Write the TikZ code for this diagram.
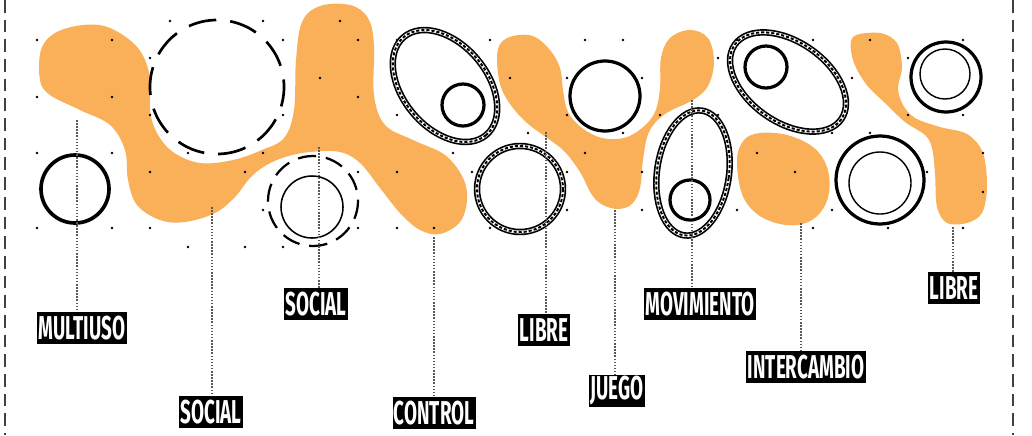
\documentclass[tikz,border=0pt]{standalone}
\usepackage{fontspec}
\newfontfamily\tagfont[FakeStretch=0.57]{Fira Sans}
\definecolor{blob}{RGB}{249,176,88}

\begin{document}
\begin{tikzpicture}[x=0.025cm, y=-0.025cm,
  zone/.style={fill=blob, draw=none},
  thick ring/.style={draw, line width=2.3pt},
  thin ring/.style={draw, line width=1pt},
  wall/.style={draw, line width=1.2pt, double=white, double distance=2.2pt,
    postaction={draw, line width=1.4pt, dash pattern=on 2.2pt off 1.4pt}},
  leader/.style={draw=black!65, line width=1.6pt, dash pattern=on 1.1pt off 1.1pt},
  tag/.style={fill=black, text=white, inner xsep=1pt, inner ysep=0pt,
    minimum height=0.8cm, font=\tagfont\bfseries\fontsize{23.5}{23.5}\selectfont}
]
\useasboundingbox (0,0) rectangle (1032,435);

% sheet border
\draw[black!75, line width=1.4pt, dash pattern=on 9pt off 5pt] (5,0) -- (5,435);
\draw[black!75, line width=1.4pt, dash pattern=on 9pt off 5pt] (1013,0) -- (1013,435);

% orange zones
\fill[zone] plot[smooth cycle, tension=0.6] coordinates {
  (40,80) (41,50) (55,33) (83,25) (110,28) (138,48) (150,77) (150,110) (157,133)
  (173,152) (200,163) (233,160) (262,150) (284,138) (294,110) (296,60) (302,22)
  (320,6) (350,5) (368,18) (374,45) (374,95) (385,125) (413,140) (445,155)
  (463,178) (467,200) (460,222) (440,234) (420,230) (400,213) (380,188)
  (360,163) (340,152) (310,152) (285,157) (265,166) (250,178) (235,197)
  (215,213) (185,222) (160,220) (137,205) (128,180) (125,150) (110,125)
  (80,110) (50,95)};
\fill[zone] plot[smooth cycle, tension=0.6] coordinates {
  (497,57) (501,43) (513,36) (533,36) (550,50) (560,68) (563,90) (568,112)
  (582,128) (602,138) (624,138) (642,128) (655,112) (660,88) (661,58) (670,38)
  (690,30) (708,38) (714,62) (708,86) (693,100) (665,114) (649,132) (643,160)
  (640,188) (632,204) (618,209) (603,205) (592,195) (580,172) (565,152)
  (550,140) (527,123) (510,104) (500,84)};
\fill[zone] plot[smooth cycle, tension=0.6] coordinates {
  (737,160) (744,140) (760,133) (787,135) (813,147) (827,167) (829,193)
  (820,213) (803,224) (780,224) (757,214) (742,194)};
\fill[zone] plot[smooth cycle, tension=0.55] coordinates {
  (853,37) (880,33) (897,43) (902,67) (898,88) (903,105) (915,118) (940,127)
  (967,134) (983,153) (987,187) (982,213) (967,223) (947,223) (937,207)
  (935,173) (932,148) (925,135) (905,122) (885,103) (866,84) (853,60)};

% rings and ellipses
\draw[thick ring, line width=2.6pt] (75,189) circle[radius=34];
\draw[line width=1.9pt, dash pattern=on 20pt off 10pt, dash phase=6pt] (217,87) circle[radius=67];
\draw[line width=1.6pt, dash pattern=on 13pt off 7pt] (313,201) circle[radius=45];
\draw[thin ring, line width=1.1pt] (312,207) circle[radius=31];

\coordinate (ctrlC) at (445,86);
\draw[wall, rotate around={-50:(ctrlC)}] (ctrlC) ellipse[x radius=64, y radius=42];
\draw[thick ring] (463,105) circle[radius=21];
\draw[wall] (520,189) circle[radius=43];
\draw[thick ring] (605,96) circle[radius=35];

\coordinate (movC) at (693,173);
\draw[wall, rotate around={-8:(movC)}] (movC) ellipse[x radius=36, y radius=63];
\draw[thick ring] (690,200) circle[radius=20];

\coordinate (intC) at (788,82);
\draw[wall, rotate around={-35:(intC)}] (intC) ellipse[x radius=65, y radius=40];
\draw[thick ring] (766,67) circle[radius=21];

\draw[thick ring] (880,180) circle[radius=44];
\draw[thin ring] (880,183) circle[radius=31];
\draw[thick ring] (946,77) circle[radius=35];
\draw[thin ring] (945,74) circle[radius=25];

% grid dots
\foreach \p in {(37,40),(112,40),(170,21),(263,21),(283,40),(340,21),(37,97),
  (112,97),(150,58),(150,115),(283,115),(320,78),(37,153),(112,153),(188,153),
  (263,153),(150,172),(245,172),(263,210),(37,228),(112,228),(150,228),
  (188,247),(245,247),(283,247),(358,40),(358,97),(397,40),(397,115),(490,40),
  (585,40),(623,40),(510,78),(567,78),(642,78),(567,115),(623,133),(528,133),
  (660,115),(453,153),(585,153),(358,172),(397,172),(472,172),(567,172),
  (642,172),(358,228),(397,228),(434,228),(490,228),(567,210),(642,210),
  (718,58),(737,40),(813,40),(870,40),(963,40),(852,78),(908,58),(718,115),
  (832,133),(870,133),(908,115),(963,115),(757,153),(795,172),(927,172),
  (983,153),(983,192),(737,210),(832,210),(813,228),(888,228),(963,228)}
  \fill \p circle[radius=1.3];

% labels
\node[tag] (multiuso) at (82,328) {MULTIUSO};
\node[tag] (socialB) at (211,412) {SOCIAL};
\node[tag] (socialA) at (316,304) {SOCIAL};
\node[tag] (control) at (434,413) {CONTROL};
\node[tag] (libreA) at (544,330) {LIBRE};
\node[tag] (juego) at (617,391) {JUEGO};
\node[tag] (movim) at (700,304) {MOVIMIENTO};
\node[tag] (intercambio) at (806,367) {INTERCAMBIO};
\node[tag] (libreB) at (954,288) {LIBRE};

% leader tops
\coordinate (multiusoTop) at (77,120);
\coordinate (socialBTop) at (212,207);
\coordinate (socialATop) at (319,147);
\coordinate (controlTop) at (434,237);
\coordinate (libreATop) at (546,132);
\coordinate (juegoTop) at (615,210);
\coordinate (movimTop) at (692,100);
\coordinate (intercambioTop) at (801,223);
\coordinate (libreBTop) at (953,227);

% leaders
\foreach \n in {multiuso, socialB, socialA, control, libreA, juego, movim, intercambio, libreB}
  \draw[leader] (\n Top) -- (\n Top |- \n.north);

\end{tikzpicture}
\end{document}
